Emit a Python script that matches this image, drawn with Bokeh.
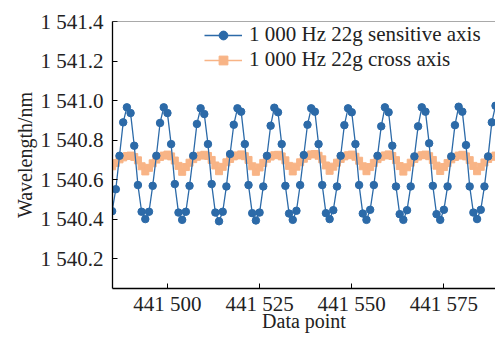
from bokeh.plotting import figure
from bokeh.models import FixedTicker, Span, Range1d, Legend, LegendItem
from bokeh.embed import file_html
from bokeh.resources import INLINE

# Data point indices
data_point = list(range(441485, 441590))

# 1 000 Hz 22g sensitive axis (nm)
sensitive = [
    1540.441, 1540.552, 1540.721, 1540.890, 1540.966, 1540.937, 1540.772, 1540.573, 1540.438, 1540.401,
    1540.438, 1540.569, 1540.721, 1540.887, 1540.966, 1540.937, 1540.780, 1540.578, 1540.434, 1540.397,
    1540.438, 1540.569, 1540.721, 1540.882, 1540.961, 1540.932, 1540.780, 1540.578, 1540.434, 1540.390,
    1540.438, 1540.566, 1540.730, 1540.878, 1540.961, 1540.944, 1540.780, 1540.573, 1540.431, 1540.394,
    1540.434, 1540.566, 1540.721, 1540.873, 1540.964, 1540.941, 1540.780, 1540.569, 1540.429, 1540.397,
    1540.443, 1540.573, 1540.725, 1540.878, 1540.961, 1540.944, 1540.780, 1540.573, 1540.431, 1540.401,
    1540.446, 1540.566, 1540.721, 1540.876, 1540.961, 1540.941, 1540.780, 1540.573, 1540.429, 1540.397,
    1540.448, 1540.573, 1540.721, 1540.870, 1540.966, 1540.941, 1540.772, 1540.566, 1540.426, 1540.397,
    1540.446, 1540.566, 1540.718, 1540.870, 1540.966, 1540.944, 1540.784, 1540.569, 1540.426, 1540.397,
    1540.448, 1540.566, 1540.718, 1540.876, 1540.969, 1540.944, 1540.775, 1540.566, 1540.434, 1540.401,
    1540.448, 1540.566, 1540.718, 1540.890, 1540.974,
]

# 1 000 Hz 22g cross axis (nm)
cross = [
    1540.668, 1540.684, 1540.703, 1540.713, 1540.720, 1540.722, 1540.715, 1540.698, 1540.668, 1540.642,
    1540.660, 1540.683, 1540.702, 1540.715, 1540.722, 1540.727, 1540.718, 1540.697, 1540.670, 1540.640,
    1540.664, 1540.686, 1540.704, 1540.716, 1540.722, 1540.726, 1540.720, 1540.700, 1540.672, 1540.643,
    1540.665, 1540.688, 1540.705, 1540.718, 1540.723, 1540.728, 1540.719, 1540.700, 1540.668, 1540.640,
    1540.662, 1540.685, 1540.706, 1540.717, 1540.724, 1540.726, 1540.718, 1540.698, 1540.670, 1540.642,
    1540.666, 1540.688, 1540.706, 1540.720, 1540.728, 1540.730, 1540.721, 1540.703, 1540.672, 1540.645,
    1540.666, 1540.686, 1540.705, 1540.718, 1540.724, 1540.727, 1540.716, 1540.696, 1540.668, 1540.643,
    1540.664, 1540.685, 1540.704, 1540.716, 1540.723, 1540.728, 1540.720, 1540.699, 1540.669, 1540.641,
    1540.663, 1540.686, 1540.705, 1540.717, 1540.724, 1540.727, 1540.719, 1540.700, 1540.671, 1540.644,
    1540.664, 1540.684, 1540.703, 1540.715, 1540.722, 1540.726, 1540.718, 1540.699, 1540.670, 1540.643,
    1540.665, 1540.687, 1540.705, 1540.716, 1540.722,
]

y_ticks = [1540.2, 1540.4, 1540.6, 1540.8, 1541.0, 1541.2, 1541.4]
y_tick_labels = ["1 540.2", "1 540.4", "1 540.6", "1 540.8", "1 541.0", "1 541.2", "1 541.4"]
x_ticks = [441500, 441525, 441550, 441575]
x_tick_labels = ["441 500", "441 525", "441 550", "441 575"]

FONT = "Liberation Serif"
TXT = "#222222"
BLUE = "#2c6aa8"
ORANGE = "#f8b486"
FS_TICK = "21px"
FS_LABEL = "20px"

p = figure(width=495, height=338, output_backend="svg", toolbar_location=None,
           x_range=Range1d(441485.1, 441589.0), y_range=Range1d(1540.05, 1541.4),
           min_border_left=112, min_border_right=0, min_border_top=21, min_border_bottom=50)
p.grid.visible = False
p.outline_line_color = None
p.background_fill_color = "white"
p.border_fill_color = "white"

# series
cl = p.line(data_point, cross, line_color=ORANGE, line_width=1.5)
cs = p.scatter(data_point, cross, marker="square", size=7, fill_color=ORANGE, line_color=ORANGE)
sl = p.line(data_point, sensitive, line_color=BLUE, line_width=1.3)
ss = p.scatter(data_point, sensitive, marker="circle", size=7.5, fill_color=BLUE, line_color=BLUE)

# top frame line
p.add_layout(Span(location=1541.4, dimension="width", line_color="#555555", line_width=1.2))

for ax in (p.xaxis[0], p.yaxis[0]):
    ax.axis_line_color = "black"
    ax.axis_line_width = 1.3
    ax.major_tick_line_color = "black"
    ax.major_tick_in = 5
    ax.major_tick_out = 0
    ax.minor_tick_line_color = None
    ax.major_label_text_font = FONT
    ax.major_label_text_font_size = FS_TICK
    ax.major_label_text_color = TXT
    ax.axis_label_text_font = FONT
    ax.axis_label_text_font_size = FS_LABEL
    ax.axis_label_text_font_style = "normal"
    ax.axis_label_text_color = TXT

p.xaxis[0].ticker = FixedTicker(ticks=x_ticks)
p.xaxis[0].major_label_overrides = dict(zip(x_ticks, x_tick_labels))
p.yaxis[0].ticker = FixedTicker(ticks=y_ticks)
p.yaxis[0].major_label_overrides = dict(zip(y_ticks, y_tick_labels))
p.xaxis[0].axis_label = "Data point"
p.yaxis[0].axis_label = "Wavelength/nm"
p.xaxis[0].major_label_standoff = 3
p.xaxis[0].axis_label_standoff = -9
p.yaxis[0].major_label_standoff = 9
p.yaxis[0].axis_label_standoff = 2

legend = Legend(items=[
    LegendItem(label="1 000 Hz 22g sensitive axis", renderers=[sl, ss]),
    LegendItem(label="1 000 Hz 22g cross axis", renderers=[cl, cs]),
], location=(92, 216))
legend.border_line_color = None
legend.background_fill_alpha = 0
legend.padding = 0
legend.margin = 0
legend.spacing = 0
legend.glyph_width = 38
legend.glyph_height = 22
legend.label_height = 22
legend.label_standoff = 7
legend.label_text_font = FONT
legend.label_text_font_size = FS_TICK
legend.label_text_color = TXT
p.add_layout(legend)

open("out.html", "w").write(file_html(p, INLINE))
